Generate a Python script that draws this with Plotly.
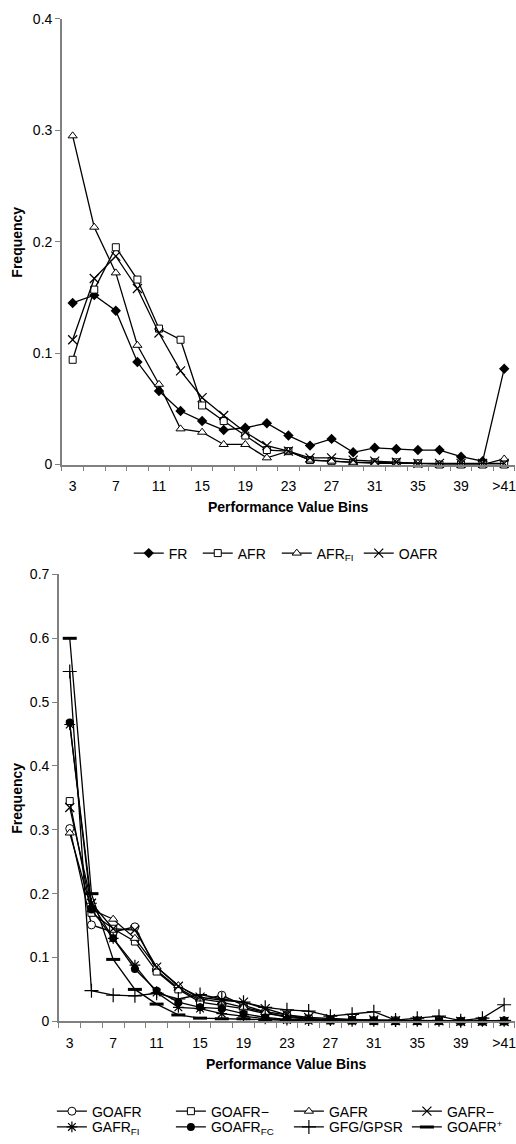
import plotly.graph_objects as go

# ---------------- data ----------------
bins = ["3", "5", "7", "9", "11", "13", "15", "17", "19", "21", "23", "25", "27",
        "29", "31", "33", "35", "37", "39", "41", ">41"]
label_every = 2

# top chart
fr = [0.145, 0.152, 0.138, 0.092, 0.066, 0.048, 0.039, 0.031, 0.033, 0.037, 0.026,
      0.017, 0.023, 0.011, 0.015, 0.014, 0.013, 0.013, 0.007, 0.003, 0.086]
afr = [0.094, 0.157, 0.195, 0.166, 0.122, 0.112, 0.053, 0.039, 0.026, 0.013, 0.012,
       0.004, 0.003, 0.002, 0.002, 0.002, 0.001, 0.000, 0.000, 0.000, 0.000]
afr_fi = [0.295, 0.213, 0.172, 0.107, 0.072, 0.032, 0.029, 0.018, 0.018, 0.006, 0.012,
          0.004, 0.003, 0.002, 0.001, 0.001, 0.001, 0.000, 0.000, 0.000, 0.005]
oafr = [0.112, 0.167, 0.187, 0.158, 0.118, 0.084, 0.060, 0.044, 0.029, 0.017, 0.012,
        0.006, 0.006, 0.004, 0.003, 0.002, 0.001, 0.001, 0.001, 0.001, 0.001]

# bottom chart
goafr = [0.302, 0.151, 0.140, 0.148, 0.080, 0.052, 0.033, 0.041, 0.025, 0.015, 0.010,
         0.004, 0.002, 0.002, 0.001, 0.001, 0.001, 0.001, 0.000, 0.000, 0.001]
goafr_minus = [0.345, 0.170, 0.145, 0.125, 0.078, 0.050, 0.030, 0.025, 0.020, 0.012, 0.008,
               0.004, 0.002, 0.002, 0.001, 0.001, 0.001, 0.001, 0.000, 0.000, 0.000]
gafr = [0.295, 0.175, 0.160, 0.130, 0.085, 0.056, 0.035, 0.030, 0.022, 0.014, 0.006,
        0.004, 0.003, 0.002, 0.001, 0.001, 0.001, 0.001, 0.000, 0.000, 0.000]
gafr_minus = [0.335, 0.185, 0.145, 0.143, 0.085, 0.055, 0.038, 0.033, 0.030, 0.020, 0.010,
              0.006, 0.004, 0.003, 0.002, 0.001, 0.001, 0.001, 0.000, 0.000, 0.000]
gafr_fi = [0.465, 0.185, 0.130, 0.088, 0.045, 0.022, 0.020, 0.012, 0.008, 0.004, 0.002,
           0.001, 0.001, 0.000, 0.000, 0.000, 0.000, 0.000, 0.000, 0.000, 0.000]
goafr_fc = [0.468, 0.175, 0.130, 0.082, 0.048, 0.030, 0.022, 0.020, 0.012, 0.006, 0.003,
            0.002, 0.001, 0.001, 0.000, 0.000, 0.000, 0.000, 0.000, 0.000, 0.000]
gfg_gpsr = [0.548, 0.048, 0.041, 0.040, 0.044, 0.035, 0.042, 0.035, 0.030, 0.022, 0.018,
            0.016, 0.008, 0.011, 0.015, 0.002, 0.005, 0.008, 0.001, 0.005, 0.026]
goafr_plus = [0.600, 0.200, 0.097, 0.050, 0.027, 0.010, 0.005, 0.004, 0.004, 0.002, 0.001,
              0.000, 0.000, 0.000, 0.000, 0.000, 0.000, 0.000, 0.000, 0.000, 0.000]

# ---------------- figure ----------------
W, H = 516, 1144
FONT = "Liberation Sans, Arial, sans-serif"
xi = list(range(len(bins)))

def px_x(p):
    return p / W

def px_y(p):
    return 1 - p / H

fig = go.Figure()

def marker(symbol, fill="white", size=8, lw=1):
    return dict(symbol=symbol, size=size, color=fill, line=dict(color="black", width=lw))

top_series = [
    ("FR", fr, marker("diamond", "black", 8, 0), 24),
    ("AFR", afr, marker("square", "white", 7), 34),
    ("AFR<sub>FI</sub>", afr_fi, marker("triangle-up", "white", 8), 37),
    ("OAFR", oafr, marker("x-thin", "black", 9, 1.2), 45),
]
for name, vals, mk, lw_ in top_series:
    fig.add_trace(go.Scatter(x=xi, y=vals, name=name, mode="lines+markers",
                             line=dict(color="black", width=1.3), marker=mk,
                             xaxis="x", yaxis="y", legend="legend",
                             legendwidth=lw_, cliponaxis=False))

bottom_series = [
    ("GOAFR", goafr, marker("circle", "white", 8), "legend2", 74),
    ("GOAFR\u2212", goafr_minus, marker("square", "white", 7), "legend2", 73),
    ("GAFR", gafr, marker("triangle-up", "white", 8), "legend2", 73),
    ("GAFR\u2212", gafr_minus, marker("x-thin", "black", 9, 1.2), "legend2", 60),
    ("GAFR<sub>FI</sub>", gafr_fi, marker("asterisk", "black", 9, 1.2), "legend3", 74),
    ("GOAFR<sub>FC</sub>", goafr_fc, marker("circle", "black", 8, 0), "legend3", 73),
    ("GFG/GPSR", gfg_gpsr, marker("cross-thin", "black", 10, 1.2), "legend3", 73),
    ("GOAFR<sup>+</sup>", goafr_plus, marker("line-ew", "black", 10, 3), "legend3", 60),
]
for name, vals, mk, lg, lw_ in bottom_series:
    fig.add_trace(go.Scatter(x=xi, y=vals, name=name, mode="lines+markers",
                             line=dict(color="black", width=1.3), marker=mk,
                             xaxis="x2", yaxis="y2", legend=lg, legendwidth=lw_,
                             cliponaxis=False))

tickvals = xi[::label_every]
ticktext = bins[::label_every]
boundaries = [i - 0.5 for i in range(len(bins) + 1)]

def xaxis_cfg(dom, anchor):
    return dict(domain=dom, anchor=anchor, range=[-0.5, len(bins) - 0.5],
                tickmode="array", tickvals=tickvals, ticktext=ticktext,
                ticks="outside", ticklen=8, tickcolor="rgba(0,0,0,0)",
                ticklabeloverflow="allow",
                showline=True, linecolor="#808080", linewidth=1.5,
                showgrid=False, zeroline=False,
                tickfont=dict(family=FONT, size=14, color="black"),
                minor=dict(tickmode="array", tickvals=boundaries, ticks="outside",
                           ticklen=5, tickcolor="#808080", tickwidth=1, showgrid=False))

def yaxis_cfg(dom, anchor, top):
    return dict(domain=dom, anchor=anchor, range=[0, top], dtick=0.1,
                ticks="outside", ticklen=5, tickcolor="#808080", tickwidth=1,
                showline=True, linecolor="#808080", linewidth=1.5,
                showgrid=False, zeroline=False, tickformat=".1~f",
                tickfont=dict(family=FONT, size=14, color="black"))

fig.update_layout(
    width=W, height=H,
    margin=dict(l=0, r=0, t=0, b=0),
    paper_bgcolor="white", plot_bgcolor="white",
    font=dict(family=FONT, size=14, color="black"),
    xaxis=xaxis_cfg([px_x(62), 1.0], "y"),
    yaxis=yaxis_cfg([px_y(463), px_y(11)], "x", 0.4),
    xaxis2=xaxis_cfg([px_x(59), 1.0], "y2"),
    yaxis2=yaxis_cfg([px_y(1027.7), px_y(574.5)], "x2", 0.7),
    legend=dict(orientation="h", x=px_x(129), xanchor="left", y=px_y(537), yanchor="top",
                font=dict(family=FONT, size=14), bgcolor="rgba(0,0,0,0)",
                itemwidth=30, tracegroupgap=0),
    legend2=dict(orientation="h", x=px_x(52), xanchor="left", y=px_y(1103), yanchor="top",
                 font=dict(family=FONT, size=14), bgcolor="rgba(0,0,0,0)",
                 itemwidth=30, entrywidthmode="pixels"),
    legend3=dict(orientation="h", x=px_x(52), xanchor="left", y=px_y(1119), yanchor="top",
                 font=dict(family=FONT, size=14), bgcolor="rgba(0,0,0,0)",
                 itemwidth=30, entrywidthmode="pixels"),
    showlegend=True,
)

title_font = dict(family=FONT, size=14, color="black")
annots = [
    dict(text="<b>Performance Value Bins</b>", x=px_x(289), y=px_y(506)),
    dict(text="<b>Performance Value Bins</b>", x=px_x(287), y=px_y(1071)),
    dict(text="<b>Frequency</b>", x=px_x(17), y=px_y(237), textangle=-90),
    dict(text="<b>Frequency</b>", x=px_x(17), y=px_y(801), textangle=-90),
]
for a in annots:
    fig.add_annotation(xref="paper", yref="paper", showarrow=False,
                       xanchor="center", yanchor="middle", font=title_font, **a)

fig.write_html(
    "out.html",
    config={"displayModeBar": False},
    post_script="document.body.style.margin='0';document.body.style.padding='0';"
                "document.body.style.overflow='hidden';",
)
